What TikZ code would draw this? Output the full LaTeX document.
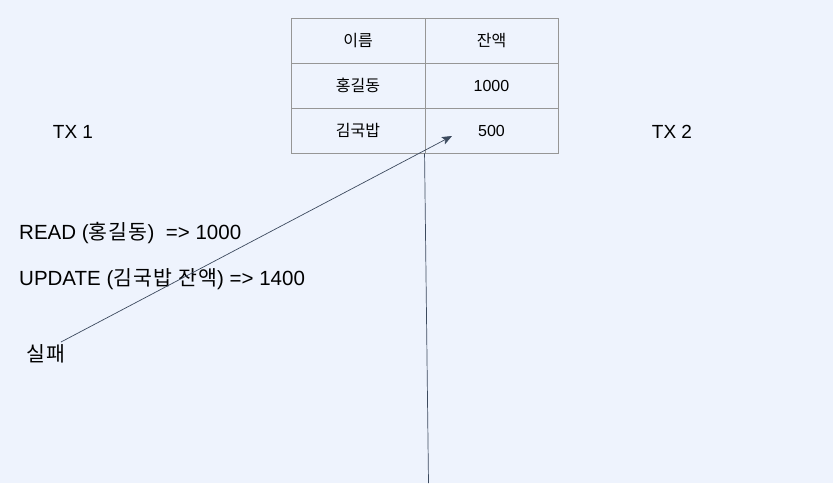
\documentclass[tikz,border=0pt]{standalone}
\usepackage{fontspec}
\setmainfont{Liberation Sans}
\newfontfamily\kr{Noto Sans CJK KR}
\newfontfamily\krwide[LetterSpace=6]{Noto Sans CJK KR}
\usetikzlibrary{arrows.meta}
\definecolor{bgblue}{RGB}{238,243,253}
\definecolor{cellgray}{RGB}{150,150,150}
\definecolor{linkgray}{RGB}{60,74,94}
\tikzset{
  cell/.style={draw=cellgray,line width=0.9pt,minimum width=134pt,minimum height=45pt,inner sep=0pt,font=\fontsize{16}{19}\selectfont},
  txt/.style={anchor=west,inner sep=0pt,font=\fontsize{20.5}{24}\selectfont},
  link/.style={draw=linkgray,line width=0.7pt}
}
\begin{document}
\begin{tikzpicture}[x=1pt,y=-1pt]
    \fill [bgblue] (0,0) rectangle (833,483);
    \useasboundingbox (0,0) rectangle (833,483);
    \node [cell] (name) at (358,40.5) {\kr 이름};
    \node [cell,minimum width=133pt] (bal) at (491.5,40.5) {\kr 잔액};
    \node [cell] (hong) at (358,85.5) {\kr 홍길동};
    \node [cell,minimum width=133pt] (hongbal) at (491.5,85.5) {1000};
    \node [cell] (kim) at (358,130.5) {\kr 김국밥};
    \node [cell,minimum width=133pt] (kimbal) at (491.5,130.5) {500};
    \node [txt,anchor=center,font=\fontsize{19}{22}\selectfont] (tx1) at (73,132) {TX 1};
    \node [txt,anchor=center,font=\fontsize{19}{22}\selectfont] (tx2) at (672,132) {TX 2};
    \node [txt] (read) at (19,233.5) {READ ({\krwide 홍길동})\ \ => 1000};
    \node [txt] (update) at (19,279.5) {UPDATE ({\krwide 김국밥 잔액}) => 1400};
    \node [txt] (fail) at (26,353.5) {\krwide 실패};
    \coordinate (start) at (61,342);
    \coordinate (hit) at (452,136);
    \coordinate (bottom) at (428.5,483);
    \draw [link,-{Stealth[length=10pt,width=8pt,inset=2pt]}] (start) -- (hit);
    \draw [link] (bottom) -- (kimbal.south west);
  \end{tikzpicture}
\end{document}
